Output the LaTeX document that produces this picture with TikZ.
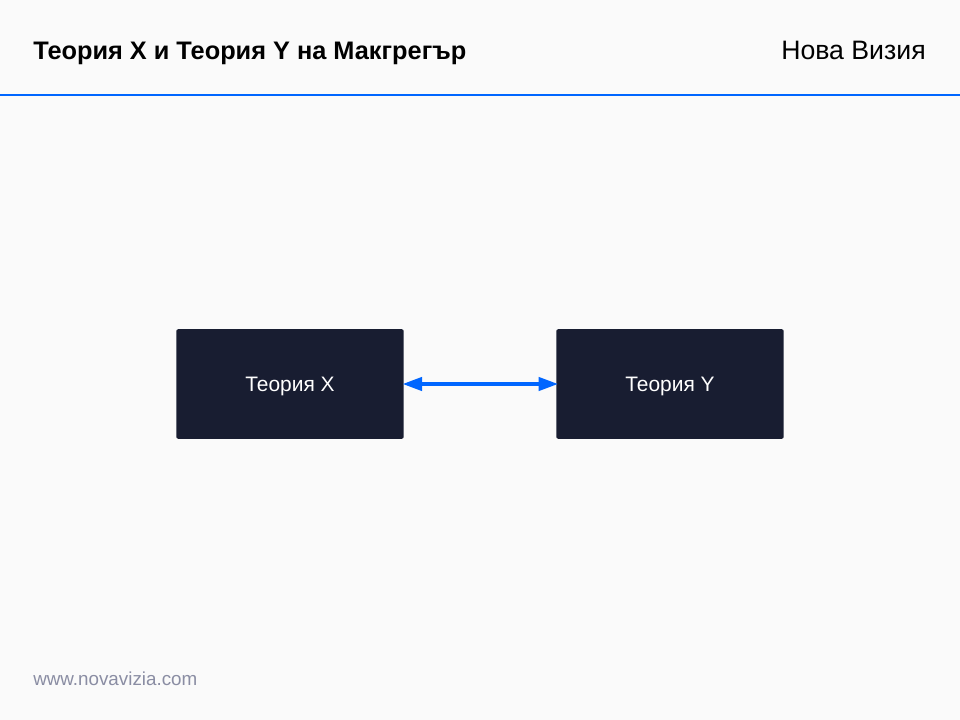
\documentclass[tikz,border=0pt]{standalone}
\usepackage{fontspec}
\setmainfont{Liberation Sans}
\usetikzlibrary{positioning,arrows.meta}
\definecolor{boxfill}{HTML}{181D31}
\definecolor{linkblue}{HTML}{0066FF}
\definecolor{pagebg}{HTML}{FAFAFA}
\definecolor{footgray}{HTML}{8A8DA3}
\tikzset{theorybox/.style={fill=boxfill,rounded corners=1.5pt,minimum width=170.6pt,minimum height=82.2pt,text=white,font=\fontsize{15.7}{18}\selectfont,text height=11pt,text depth=0pt}}
\tikzset{textlabel/.style={inner sep=0pt,text height=13pt,text depth=0pt}}
\tikzset{linkarrow/.style={{Triangle[length=14.5pt,width=10pt]}-{Triangle[length=14.5pt,width=10pt]},linkblue,line width=2.4pt,shorten <=-1pt,shorten >=-1.5pt}}
\begin{document}
\begin{tikzpicture}[x=0.75pt,y=-0.75pt]
      \useasboundingbox[fill=pagebg] (0,0) rectangle (960,720);
      \coordinate (ruleL) at (0,95.5);
      \coordinate (ruleR) at (960,95.5);
      \draw[linkblue,line width=1.5pt] (ruleL) -- (ruleR);
      \node[textlabel,anchor=west,font=\fontsize{19}{22}\selectfont\bfseries] (title) at (33,50.8) {Теория X и Теория Y на Макгрегър};
      \node[textlabel,anchor=east,font=\fontsize{20}{24}\selectfont] (brand) at (926,50.8) {Нова Визия};
      \node[textlabel,anchor=west,text=footgray,font=\fontsize{14.1}{17}\selectfont] (site) at (33,677) {www.novavizia.com};
      \node[theorybox] (theoryx) at (290,384) {Теория X};
      \node[theorybox] (theoryy) at (670,384) {Теория Y};
      \draw[linkarrow] (theoryx) -- (theoryy);
\end{tikzpicture}
\end{document}
